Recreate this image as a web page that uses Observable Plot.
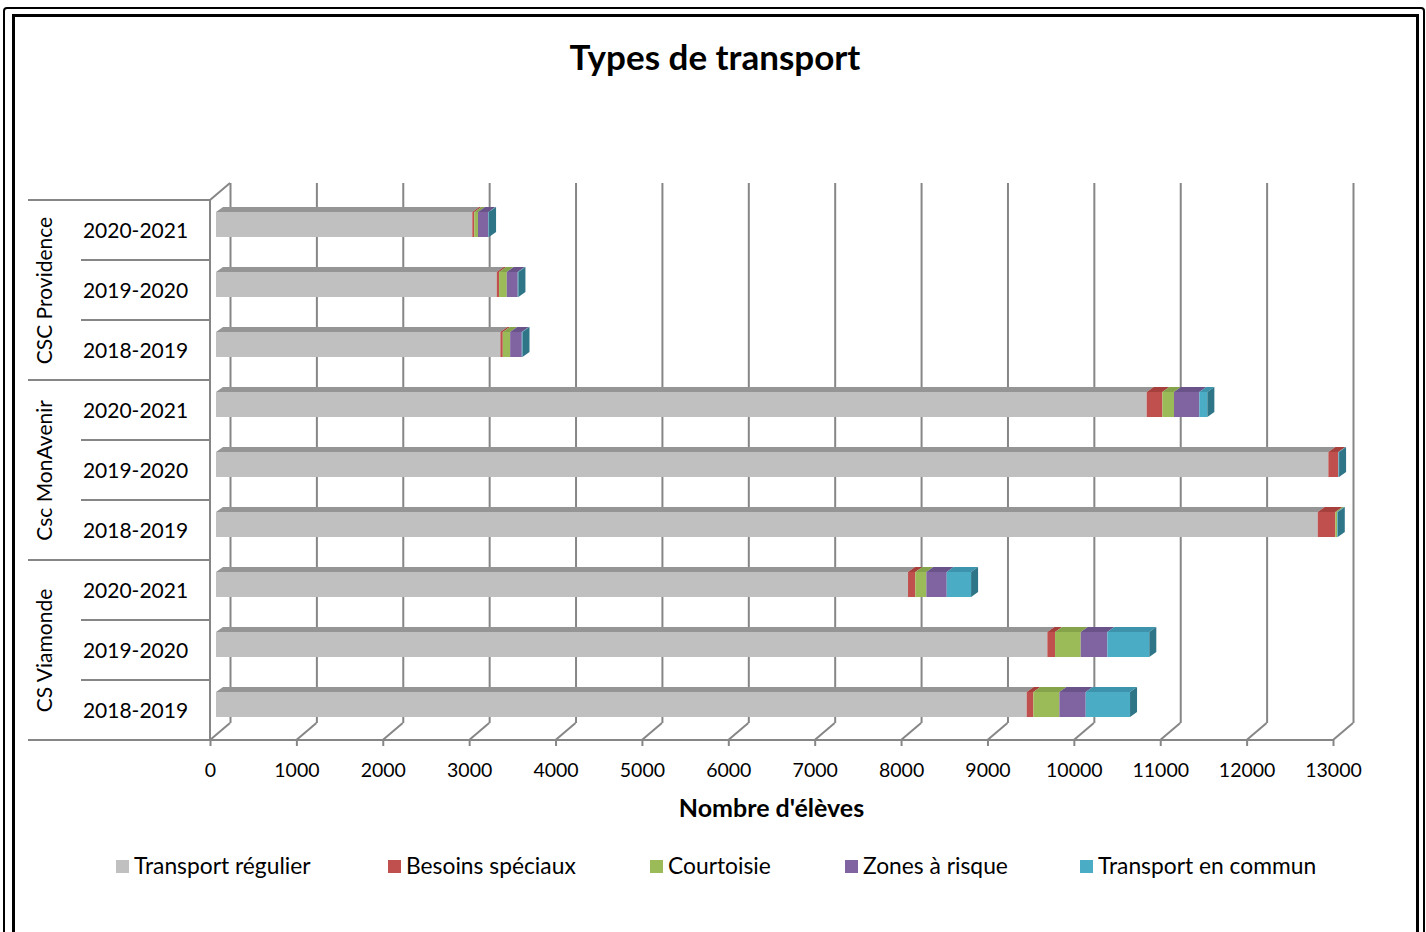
<!DOCTYPE html>
<html><head><meta charset="utf-8">
<script src="https://cdn.jsdelivr.net/npm/d3@7"></script>
<script src="https://cdn.jsdelivr.net/npm/@observablehq/plot@0.6"></script>
<style>
body{margin:0;background:#fff;font-family:Lato,"Open Sans",sans-serif;color:#000;}
#wrap{position:relative;width:1426px;height:932px;overflow:hidden;background:#fff;}
.b1{position:absolute;left:3px;top:7px;width:1418px;height:960px;border:2px solid #000;border-radius:4px;}
.b2{position:absolute;left:12px;top:14px;width:1401px;height:960px;border:3px solid #000;}
#title{position:absolute;left:0;width:1430px;top:35px;text-align:center;font-weight:bold;font-size:35px;line-height:42px;}
#chart{position:absolute;left:0;top:150px;}
#chart svg{overflow:visible;}
.leg{position:absolute;top:851px;font-size:22.8px;line-height:28px;white-space:nowrap;}
.leg span.sw{display:inline-block;width:13px;height:13px;margin-right:5px;vertical-align:1px;}
</style></head><body>
<div id="wrap">
  <div class="b1"></div><div class="b2"></div>
  <div id="title">Types de transport</div>
  <div id="chart"></div>
  <div id="legend"></div>
</div>
<script>
const groups = ["CSC Providence", "Csc MonAvenir", "CS Viamonde"];
const years = ["2020-2021", "2019-2020", "2018-2019"];
const series = ["Transport régulier", "Besoins spéciaux", "Courtoisie", "Zones à risque", "Transport en commun"];
const colors = ["#c0c0c0", "#c0504d", "#9bbb59", "#8064a2", "#4bacc6"];
const topColors = ["#959595", "#a6403d", "#84a34a", "#6a5389", "#3d93ab"];
const sideColor = "#2f7588";
// row order: Providence (20-21, 19-20, 18-19), MonAvenir (...), Viamonde (...)
const transportRegulier = [2967, 3250, 3292, 10774, 12877, 12754, 8011, 9624, 9385];
const besoinsSpeciaux   = [23, 27, 28, 181, 116, 204, 85, 89, 77];
const courtoisie        = [43, 89, 85, 135, 0, 20, 127, 297, 301];
const zonesRisque       = [120, 127, 135, 293, 0, 0, 236, 308, 305];
const transportCommun   = [8, 8, 8, 93, 8, 8, 282, 486, 513];
const xTicks = [0,1000,2000,3000,4000,5000,6000,7000,8000,9000,10000,11000,12000,13000];
const axisLabel = "Nombre d'élèves";

const seriesValues = [transportRegulier, besoinsSpeciaux, courtoisie, zonesRisque, transportCommun];
const rows = [];
groups.forEach((g, gi) => years.forEach((y, yi) => rows.push({key: g + " | " + y, group: g, year: y, i: gi * 3 + yi, mid: yi === 1})));
const rowKeys = rows.map(r => r.key);
const data = [];
rows.forEach(r => series.forEach((s, si) => data.push({row: r.key, series: s, value: seriesValues[si][r.i]})));

const plot = Plot.plot({
  width: 1426, height: 680,
  marginLeft: 216, marginRight: 87, marginTop: 50, marginBottom: 90,
  style: {fontFamily: "Lato, 'Open Sans', sans-serif", fontSize: "20px", background: "transparent", color: "#000"},
  x: {domain: [0, 13000], label: null},
  y: {domain: rowKeys, padding: 0, axis: null},
  color: {domain: series, range: colors},
  marks: [
    Plot.ruleX(xTicks, {dx: 14, dy: -17, stroke: "#868686", strokeWidth: 2}),
    Plot.barX(data, {x: "value", y: "row", fill: "series", insetTop: 12, insetBottom: 23}),
    Plot.axisX({ticks: xTicks, anchor: "bottom", dx: -6, tickSize: 6, tickPadding: 17, tickFormat: d => String(d), stroke: "#868686", strokeWidth: 2, fill: "#000", fontSize: 19.5, label: null}),
    Plot.text(rows, {y: "key", text: "year", frameAnchor: "left", dx: -81, dy: 1, textAnchor: "middle", fontSize: 21, fill: "#000"}),
    Plot.text(rows.filter(r => r.mid), {y: "key", text: "group", frameAnchor: "left", dx: -171, rotate: -90, textAnchor: "middle", fontSize: 21, fill: "#000"}),
    Plot.text([axisLabel], {text: d => d, frameAnchor: "bottom", dx: -6.5, dy: 76, fontWeight: "bold", fontSize: 25, fill: "#000"})
  ]
});
document.getElementById("chart").appendChild(plot);

// 3D faces and wall lines via the plot's own scales
const xs = plot.scale("x"), ys = plot.scale("y");
const bw = ys.bandwidth;
const svg = d3.select(plot);
const g = svg.append("g");
const DX = 7, DY = -5;
rows.forEach(r => {
  const y0 = ys.apply(r.key);
  const T = y0 + 12, B = y0 + bw - 23;
  let cum = 0;
  seriesValues.forEach((vals, si) => {
    const v = vals[r.i];
    const a = xs.apply(cum), b = xs.apply(cum + v);
    cum += v;
    if (v > 0) g.append("polygon").attr("points", [[a, T], [a + DX, T + DY], [b + DX, T + DY], [b, T]].join(" ")).attr("fill", topColors[si]);
  });
  const e = xs.apply(cum);
  g.append("polygon").attr("points", [[e, T], [e + DX, T + DY], [e + DX, B + DY], [e, B]].join(" ")).attr("fill", sideColor);
});
const yTop = ys.apply(rowKeys[0]);
const yBot = ys.apply(rowKeys[rowKeys.length - 1]) + bw;
const wx = xs.apply(0) - 6;
const lines = g.append("g").attr("stroke", "#868686").attr("stroke-width", 2).attr("fill", "none");
lines.append("line").attr("x1", wx).attr("x2", wx).attr("y1", yTop).attr("y2", yBot);
lines.append("line").attr("x1", wx).attr("x2", wx + 20).attr("y1", yTop).attr("y2", yTop - 17);
for (let i = 0; i <= rowKeys.length; i++) {
  const y = yTop + i * bw;
  const x1 = (i % 3 === 0) ? 28 : 81;
  const x2 = i === rowKeys.length ? xs.apply(13000) - 6 : wx;
  lines.append("line").attr("x1", x1).attr("x2", x2).attr("y1", y).attr("y2", y);
}
xTicks.forEach(t => {
  const x = xs.apply(t) - 6;
  lines.append("line").attr("x1", x).attr("y1", yBot).attr("x2", x + 20).attr("y2", yBot - 17);
});

// legend
const legX = [116, 388, 650, 845, 1080];
const leg = document.getElementById("legend");
series.forEach((s, i) => {
  const d = document.createElement("div");
  d.className = "leg";
  d.style.left = legX[i] + "px";
  d.innerHTML = `<span class="sw" style="background:${colors[i]}"></span>${s}`;
  leg.appendChild(d);
});
</script>
</body></html>
